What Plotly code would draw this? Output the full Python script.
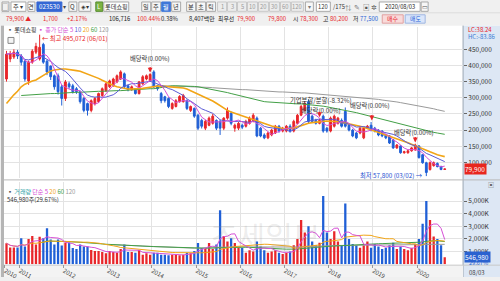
import plotly.graph_objects as go
import pandas as pd

W, H = 500, 281
FONT = "Noto Sans CJK KR"

# ---------------- data (monthly candles, thousand won) ----------------
months = [str(p) for p in pd.period_range("2010-09", "2020-08", freq="M")]

open_k = [358, 420, 426, 441, 429, 413, 352, 410, 441, 420,
          465, 413, 398, 368, 368, 334, 298, 343, 337, 328,
          319, 298, 282, 261, 282, 288, 307, 322, 334, 337,
          349, 358, 374, 337, 325, 328, 313, 343, 358, 352,
          380, 337, 313, 303, 298, 267, 273, 288, 288, 291,
          261, 267, 246, 230, 206, 215, 221, 230, 227, 206,
          237, 252, 206, 206, 215, 212, 221, 227, 237, 206,
          185, 176, 185, 191, 212, 197, 197, 212, 197, 221,
          246, 261, 288, 243, 230, 221, 243, 206, 197, 212,
          221, 230, 258, 215, 200, 191, 191, 176, 206, 215,
          206, 200, 197, 185, 182, 170, 145, 151, 130, 130,
          136, 139, 151, 124, 99, 78, 90, 97, 87, 78.3]
high_k = [445, 445, 450, 448, 435, 418, 415, 450, 470, 495.1,
          470, 418, 400, 372, 375, 340, 355, 350, 343, 333,
          322, 302, 285, 295, 302, 316, 332, 346, 356, 362,
          372, 385, 378, 340, 338, 330, 352, 370, 372, 376,
          385, 340, 318, 306, 301, 286, 296, 308, 312, 295,
          276, 270, 250, 235, 232, 242, 250, 233, 232, 240,
          270, 258, 220, 226, 220, 232, 242, 252, 242, 210,
          190, 195, 204, 216, 216, 210, 216, 218, 232, 250,
          278, 290, 295, 248, 235, 234, 248, 210, 242, 248,
          241, 236, 270, 218, 204, 194, 210, 210, 216, 225,
          210, 203, 200, 188, 185, 172, 157, 153, 136, 139,
          148, 158, 154, 126, 102, 103, 103, 100, 90, 80.2]
low_k = [350, 410, 420, 420, 400, 350, 340, 405, 435, 415,
         405, 370, 355, 325, 310, 276, 290, 328, 313, 312,
         282, 255, 245, 255, 276, 284, 303, 318, 330, 334,
         345, 355, 330, 320, 322, 310, 310, 340, 354, 350,
         330, 322, 283, 285, 268, 263, 270, 285, 285, 262,
         256, 238, 200, 205, 200, 212, 217, 200, 185, 200,
         232, 215, 195, 200, 203, 208, 217, 224, 178, 178,
         172, 172, 181, 188, 192, 193, 193, 192, 193, 218,
         243, 258, 222, 222, 217, 218, 192, 192, 193, 208,
         217, 208, 208, 196, 178, 172, 187, 172, 203, 196,
         193, 181, 178, 172, 157, 142, 142, 127, 127, 127,
         133, 136, 112, 96, 57.8, 75, 87, 85, 76, 77.5]
close_k = [435, 437, 441, 429, 410, 358, 410, 444, 459, 456,
           410, 380, 365, 334, 319, 298, 349, 334, 319, 319,
           288, 261, 261, 291, 298, 313, 328, 343, 352, 358,
           368, 380, 334, 325, 334, 313, 349, 365, 368, 372,
           334, 328, 291, 291, 273, 282, 291, 304, 307, 267,
           273, 243, 206, 212, 227, 237, 243, 206, 206, 237,
           261, 221, 215, 221, 209, 227, 237, 246, 182, 182,
           176, 191, 200, 212, 197, 206, 212, 197, 227, 246,
           273, 282, 227, 227, 221, 230, 197, 197, 237, 243,
           237, 212, 212, 200, 182, 176, 206, 206, 212, 200,
           197, 185, 182, 176, 160, 145, 154, 130, 133, 136,
           145, 154, 115, 99, 69, 99, 99, 87, 78.2, 79.9]

# moving averages of price (thousand won, None = not drawn)
ma20_k = [282, 296, 309, 320, 334, 342, 348, 352, 355, 362, 370, 377,
          383, 386, 388, 389, 389, 388, 386, 384, 382, 378, 374, 370,
          365, 360, 354, 348, 343, 338, 334, 331, 328, 327, 327, 327,
          328, 329, 331, 333, 335, 336, 336, 335, 335, 334, 333, 332,
          330, 327, 322, 316, 310, 305, 300, 295, 290, 283, 275, 268,
          261, 256, 252, 247, 243, 239, 235, 231, 228, 224, 220, 216,
          213, 210, 207, 205, 204, 205, 207, 210, 214, 218, 221, 223,
          225, 226, 227, 228, 228, 227, 226, 224, 222, 220, 217, 214,
          212, 209, 205, 201, 198, 194, 190, 187, 183, 179, 175, 170,
          166, 161, 156, 152, 147, 143, 138, 133, 128, 124, 121, 118]
ma60_k = [None, None, None, None,
          307, 308, 309, 310, 310, 311, 312, 312, 313, 313, 314, 315,
          315, 316, 316, 317, 317, 318, 318, 319, 319, 320, 320, 321,
          321, 322, 322, 322, 323, 324, 325, 325, 326, 327, 327, 328,
          328, 330, 333, 335, 336, 337, 337, 337, 337, 337, 336, 335,
          334, 332, 330, 328, 326, 324, 322, 319, 316, 313, 310, 307,
          304, 301, 298, 295, 292, 290, 288, 287, 286, 285, 284, 283,
          283, 282, 282, 281, 281, 280, 280, 279, 278, 276, 274, 272,
          270, 268, 266, 264, 262, 259, 257, 254, 251, 248, 245, 242,
          239, 236, 233, 230, 227, 224, 221, 218, 215, 212, 209, 206,
          203, 200, 197, 195, 193, 191, 189, 187]
ma120_k = [None] * 42 + [
          337, 337, 337, 336, 336, 336, 335, 335, 334, 334, 333, 333,
          332, 332, 331, 330, 330, 329, 328, 328, 327, 326, 325, 325,
          324, 323, 322, 321, 321, 320, 319, 319, 318, 318, 317, 317,
          316, 316, 315, 315, 314, 313, 313, 312, 311, 310, 309, 309,
          308, 307, 306, 305, 304, 303, 302, 301, 299, 298, 296, 295,
          293, 292, 290, 289, 287, 285, 283, 282, 280, 278, 276, 273,
          271, 268, 266, 263, 261, 258]

# monthly volume (thousand shares)
volume_k = [1660, 1330, 1330, 1330, 2050, 1400, 2000, 2240, 1550, 2170,
            2050, 2840, 1950, 1560, 1950, 1480, 1720, 1720, 1280, 1200,
            1560, 1410, 1410, 1120, 1040, 1040, 960, 860, 1040, 960,
            900, 1200, 1560, 960, 960, 900, 1120, 750, 860, 750,
            900, 900, 750, 750, 700, 750, 750, 700, 750, 900,
            860, 1040, 1670, 1280, 1280, 1670, 1200, 1560, 4270, 2240,
            1800, 2050, 1670, 1280, 1280, 900, 1100, 1000, 1800, 1400,
            1100, 900, 1000, 1100, 900, 800, 900, 1000, 1500, 2000,
            3500, 2500, 3000, 1800, 1500, 1700, 5400, 2500, 2000, 2600,
            1800, 1500, 4800, 2000, 1600, 1500, 1300, 1500, 1800, 1300,
            1600, 1400, 1200, 1300, 1500, 1700, 1200, 1400, 1200, 1100,
            1300, 1600, 2000, 3200, 5000, 3500, 2200, 2000, 1500, 546.98]

year_tick_pos = [-0.5, 3.5, 15.5, 27.5, 39.5, 51.5, 63.5, 75.5, 87.5, 99.5, 111.5]
year_labels = ["2010", "2011", "2012", "2013", "2014", "2015", "2016", "2017", "2018", "2019", "2020"]
price_ticks = [100000, 150000, 200000, 250000, 300000, 350000, 400000, 450000]
vol_ticks = [1000, 2000, 3000, 4000, 5000]
vol_tick_text = ["1,000K", "2,000K", "3,000K", "4,000K", "5,000K"]

# ---------------- derived ----------------
k = 1000
O = [v * k for v in open_k]
Hh = [v * k for v in high_k]
L = [v * k for v in low_k]
C = [v * k for v in close_k]
xi = list(range(len(months)))
cs = pd.Series(C)
ma5 = cs.rolling(5, min_periods=1).mean()
ma10 = cs.rolling(10, min_periods=1).mean()
toK = lambda a: [None if v is None else v * k for v in a]
vs = pd.Series(volume_k)
vma5 = vs.rolling(5, min_periods=1).mean()
vma20 = vs.rolling(20, min_periods=1).mean()
vma60 = vs.rolling(60, min_periods=10).mean()
vma120 = vs.rolling(120, min_periods=30).mean()

RED = "#E8262A"
BLUE = "#1F5FD6"
vol_colors = [RED if c >= o else BLUE for o, c in zip(open_k, close_k)]

fig = go.Figure()
fig.add_trace(go.Candlestick(
    x=xi, open=O, high=Hh, low=L, close=C, xaxis="x", yaxis="y",
    increasing=dict(line=dict(color=RED, width=1), fillcolor=RED),
    decreasing=dict(line=dict(color=BLUE, width=1), fillcolor=BLUE),
    whiskerwidth=0, showlegend=False, hoverinfo="skip"))

for ser, col, wd in [(toK(ma120_k), "#9a9a9a", 1), (toK(ma60_k), "#43a047", 1),
                     (toK(ma20_k), "#F2A516", 1.6), (list(ma10), "#5b5bd6", 1),
                     (list(ma5), "#d64fd6", 1)]:
    fig.add_trace(go.Scatter(x=xi, y=ser, mode="lines", line=dict(color=col, width=wd),
                             xaxis="x", yaxis="y", showlegend=False, hoverinfo="skip"))

fig.add_trace(go.Bar(x=xi, y=volume_k, marker=dict(color=vol_colors, line=dict(width=0)),
                     width=0.62, xaxis="x2", yaxis="y2", showlegend=False, hoverinfo="skip"))
for ser, col in [(vma120, "#9a9a9a"), (vma60, "#43a047"), (vma20, "#F2A516"), (vma5, "#d64fd6")]:
    fig.add_trace(go.Scatter(x=xi, y=list(ser), mode="lines", line=dict(color=col, width=1),
                             xaxis="x2", yaxis="y2", showlegend=False, hoverinfo="skip"))

# ---------------- layout helpers ----------------
def px(x): return x / W
def py(y): return 1 - y / H

shapes, annots = [], []

def rect(x0, y0, x1, y1, fill, line=None, lw=1, layer="below"):
    shapes.append(dict(type="rect", xref="paper", yref="paper", x0=px(x0), x1=px(x1),
                       y0=py(y1), y1=py(y0), fillcolor=fill,
                       line=dict(color=line if line else fill, width=lw if line else 0), layer=layer))

def hline(x0, x1, y, color, lw=1):
    shapes.append(dict(type="line", xref="paper", yref="paper", x0=px(x0), x1=px(x1),
                       y0=py(y), y1=py(y), line=dict(color=color, width=lw), layer="below"))

def text(x, y, s, color="#222", size=8, anchor="left", **kw):
    annots.append(dict(xref="paper", yref="paper", x=px(x), y=py(y), text=s, showarrow=False,
                       xanchor=anchor, yanchor="middle",
                       font=dict(color=color, size=size, family=FONT), **kw))

# backgrounds
rect(0, 0, 500, 26, "#f0f0f0")
hline(0, 500, 13, "#dcdcdc")
rect(0, 26, 500, 281, "#ffffff")
rect(0, 26, 3, 281, "#b5b5b5")
rect(463, 26, 500, 281, "#dde7f4")
shapes.append(dict(type="line", xref="paper", yref="paper", x0=px(463), x1=px(463), y0=0, y1=py(26),
                   line=dict(color="#9aa6b4", width=1), layer="below"))
hline(3, 500, 182.5, "#b8b8b8", 1)
rect(3, 269, 463, 281, "#f3f3f3")
hline(3, 500, 269, "#c8c8c8")

# toolbar row 1
tb_y0, tb_y1 = 2, 11.5
def btn(x0, x1, s, fill="#ffffff", fc="#333", line="#a8a8a8", size=6.2):
    rect(x0, tb_y0, x1, tb_y1, fill, line, 1, layer="above")
    text((x0 + x1) / 2, (tb_y0 + tb_y1) / 2, s, fc, size, "center")

btn(1, 8, "▢", "#f0f0f0", "#555")
btn(10, 25, "주 ▾")
btn(27, 34, "견")
btn(36, 61, "023530", "#3567d4", "#ffffff", "#3567d4")
text(64, 6.8, "▾", "#444", 6, "center")
btn(68, 76, "Q", "#f7f7f7")
btn(78, 90, "◈▾", "#f7f7f7")
btn(95, 102, "L", "#7cb342", "#ffffff", "#558b2f")
btn(103, 128, "롯데쇼핑")
for x0, s in [(141, "일"), (151, "주"), (161, "월"), (171, "년")]:
    if s == "월":
        btn(x0, x0 + 9, s, "#3f78d8", "#ffffff", "#3f78d8")
    else:
        btn(x0, x0 + 9, s, "#f7f7f7")
for x0, s in [(186, "분"), (196, "초"), (206, "틱")]:
    btn(x0, x0 + 9, s, "#f7f7f7")
for x0, x1, s in [(217, 226, "1"), (227, 236, "3"), (237, 246, "5"), (247, 257, "10"),
                  (258, 268, "20"), (269, 279, "30"), (280, 290, "60"), (291, 303, "120")]:
    btn(x0, x1, s, "#ececec", "#9a9a9a", "#c8c8c8", 5.8)
btn(305, 313, "▾", "#f7f7f7", "#777")
btn(316, 330, "120", "#ffffff", "#333", "#a8a8a8", 5.8)
text(331, 6.8, "/175", "#333", 5.8)
text(348, 6.8, "⇅", "#777", 6.5, "center")
text(357, 6.8, "✎", "#777", 6.5, "center")
text(366, 6.8, "▣", "#555", 6.5, "center")
text(374, 6.8, "✲", "#555", 6.5, "center")
btn(379, 420, "2020/08/03", "#ffffff", "#222", "#a8a8a8", 5.8)
btn(421, 428, "▭", "#f7f7f7", "#555")

# toolbar row 2
r2 = 19
for x, s, c in [(3, "79,900 ▲", RED), (40, "1,700", RED), (64, "+2.17%", RED),
                (106, "106,716", "#222"), (134, "100.44%", RED), (158, "0.38%", "#222"),
                (186, "8,407백만", "#222"), (215, "최우선", "#222"), (234, "79,900", RED),
                (266, "79,800", RED), (291, "시", "#222"), (298, "78,300", RED),
                (321, "고", "#222"), (328, "80,200", RED), (351, "저", "#222"),
                (358, "77,500", BLUE)]:
    text(x, r2, s, c, 5.9)
rect(382, 15, 403, 23.5, "#f9dada", "#e0a0a0", 1, layer="above")
text(392.5, 19.2, "매수", RED, 5.9, "center")
rect(405, 15, 425, 23.5, "#dbe6fb", "#9fb6e0", 1, layer="above")
text(415, 19.2, "매도", BLUE, 5.9, "center")

# chart legends
text(4, 30, '<span style="color:#555">▪ </span>롯데쇼핑 <span style="color:#d64fd6">▪ 종가 단순 5</span> '
     '<span style="color:#5b5bd6">10</span> <span style="color:#F2A516">20</span> '
     '<span style="color:#43a047">60</span> <span style="color:#9a9a9a">120</span>', "#333", 6)
rect(7, 38, 13, 44, "#f4f4f4", "#888", 1, layer="above")
text(4, 194, '<span style="color:#555">▪ </span><span style="color:#26a0a6">거래량</span> '
     '<span style="color:#d64fd6">단순 5</span> <span style="color:#F2A516">20</span> '
     '<span style="color:#43a047">60</span> <span style="color:#9a9a9a">120</span>', "#333", 6)
text(4, 202, "546,980주(29.67%)", "#333", 6)

# right panel labels
text(466, 30, "LC:38.24", RED, 6)
text(466, 37, "HC:-83.86", "#3a7bd5", 6)
annots.append(dict(xref="paper", yref="y", x=px(464), y=79900, text="79,900 ", showarrow=False,
                   xanchor="left", yanchor="middle", bgcolor="#e8261e",
                   font=dict(color="#ffffff", size=6.5, family=FONT), borderpad=0))
annots.append(dict(xref="paper", yref="y2", x=px(464), y=546.98, text="546,980 ", showarrow=False,
                   xanchor="left", yanchor="middle", bgcolor="#2a62d0",
                   font=dict(color="#ffffff", size=6.5, family=FONT), borderpad=0))
text(467, 267, "29.67%", "#2a62d0", 5.6)
text(467, 276, "08/03", "#444", 6)
text(491, 187, "▣", "#666", 6, "center")

# watermark
text(265, 238, "조세일보", "rgba(150,150,150,0.18)", 30, "center")

# event annotations on price chart
def note(xv, yv, s, color="#333", anchor="center"):
    annots.append(dict(xref="x", yref="y", x=xv, y=yv, text=s, showarrow=False, xanchor=anchor,
                       yanchor="middle", font=dict(color=color, size=6.3, family=FONT)))

def darrow(xv, yv):
    annots.append(dict(xref="x", yref="y", x=xv, y=yv, text="", showarrow=True, arrowhead=2,
                       arrowsize=0.8, arrowwidth=1.2, arrowcolor=RED, ax=0, ay=-7))

note(9.2, 484000, "← 최고 495,072 (06/01)", RED, "left")
note(39, 422000, "배당락(0.00%)")
darrow(39, 378000)
note(76.4, 291000, "기업분할/분할(-8.32%)", "#333", "left")
note(91.5, 261000, "배당락(0.00%)", "#333", "right")
darrow(85, 240000)
note(98.8, 276000, "배당락(0.00%)")
darrow(99.2, 230000)
note(110.7, 194000, "배당락(0.00%)")
darrow(111, 162000)
note(113.6, 59700, "최저 57,800 (03/02) →", "#1d4fd0", "right")

grid = "#e3e3e3"
XR = [-0.68, 123.98]
fig.update_layout(
    width=W, height=H, margin=dict(l=0, r=0, t=0, b=0),
    paper_bgcolor="#f0f0f0", plot_bgcolor="#ffffff",
    font=dict(family=FONT, size=7, color="#333"),
    showlegend=False, shapes=shapes, annotations=annots, bargap=0.3,
    xaxis=dict(domain=[px(3), px(463)], range=XR, anchor="y", showticklabels=False,
               tickvals=year_tick_pos[1:], showgrid=True, gridcolor=grid, zeroline=False,
               rangeslider=dict(visible=False), fixedrange=True),
    yaxis=dict(domain=[py(181), py(27)], range=[50600, 520000], side="right", anchor="x",
               tickvals=price_ticks, tickformat=",d", ticks="outside", ticklen=3,
               tickcolor="#666", tickfont=dict(size=6.5, color="#333"), showgrid=True,
               gridcolor=grid, zeroline=False, fixedrange=True),
    xaxis2=dict(domain=[px(3), px(463)], range=XR, anchor="y2", matches="x",
                tickvals=year_tick_pos, ticktext=year_labels, ticklabelposition="outside right",
                ticks="outside", ticklen=3, tickcolor="#999", tickfont=dict(size=6, color="#444"),
                showgrid=True, gridcolor=grid, zeroline=False, fixedrange=True),
    yaxis2=dict(domain=[py(268), py(185)], range=[0, 6480], side="right", anchor="x2",
                tickvals=vol_ticks, ticktext=vol_tick_text, ticks="outside", ticklen=3,
                tickcolor="#666", tickfont=dict(size=6.5, color="#333"), showgrid=True,
                gridcolor=grid, zeroline=False, fixedrange=True),
)
fig.write_html("out.html")
